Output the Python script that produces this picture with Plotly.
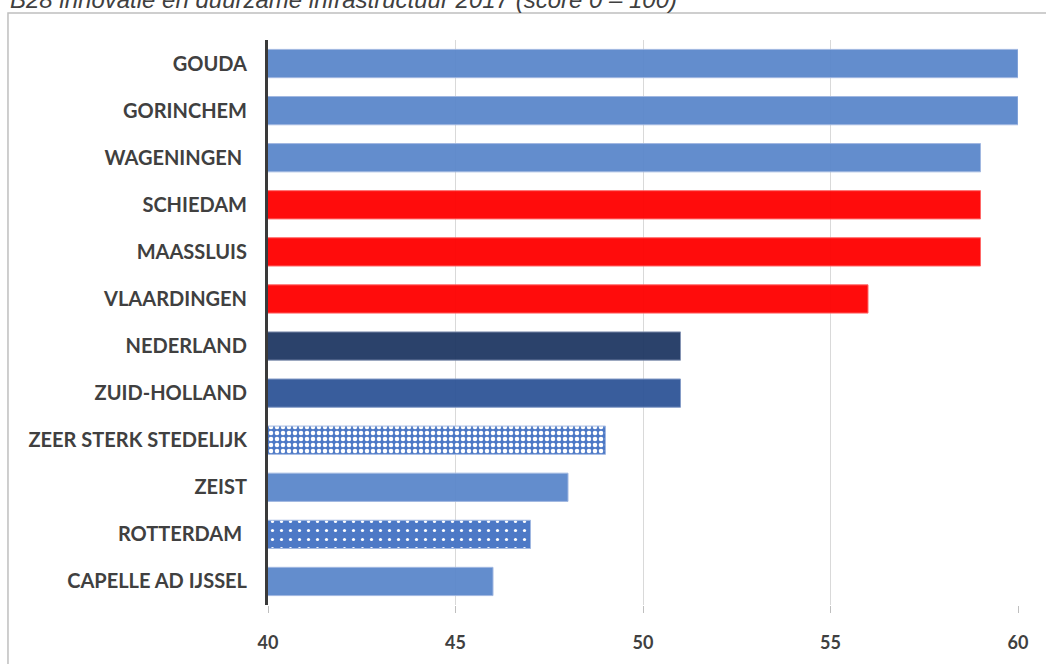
import plotly.graph_objects as go

# data
gemeenten = ['GOUDA', 'GORINCHEM', 'WAGENINGEN ', 'SCHIEDAM', 'MAASSLUIS', 'VLAARDINGEN',
             'NEDERLAND', 'ZUID-HOLLAND', 'ZEER STERK STEDELIJK', 'ZEIST', 'ROTTERDAM ',
             'CAPELLE AD IJSSEL']
scores = [60, 60, 59, 59, 59, 56, 51, 51, 49, 48, 47, 46]
titel = 'B28 innovatie en duurzame infrastructuur 2017 (score 0 – 100)'

LIGHT = '#5B87CB'
kleuren = [LIGHT, LIGHT, LIGHT, '#FF0000', '#FF0000', '#FF0000',
           '#203864', '#2F5597', '#4472C4', LIGHT, '#4472C4', LIGHT]
randen = ['#9DB5E0'] * 3 + ['#FF6060'] * 3 + ['#7F8FAF', '#7F97C5', '#9DB5E0', '#9DB5E0', '#9DB5E0', '#9DB5E0']
patronen = [''] * 8 + ['.', '', '.', '']
pat_size = [8] * 8 + [6, 8, 9, 8]
pat_sol = [0.3] * 8 + [0.45, 0.3, 0.1, 0.3]

fig = go.Figure()
fig.add_trace(go.Bar(
    x=scores, y=gemeenten, orientation='h', width=0.6, opacity=0.95,
    marker=dict(color=kleuren, line=dict(color=randen, width=1),
                pattern=dict(shape=patronen, fgcolor='white', fgopacity=1,
                             size=pat_size, solidity=pat_sol, fillmode='overlay')),
    hoverinfo='x+y'))

fig.update_xaxes(range=[40, 60], dtick=5, showgrid=True, gridcolor='#D9D9D9', gridwidth=1,
                 ticks='outside', ticklen=7, tickcolor='#BFBFBF', zeroline=False,
                 tickfont=dict(family='Lato', size=18, color='#404040', weight='bold'),
                 ticklabelstandoff=14)
fig.update_yaxes(autorange='reversed', showline=True, linecolor='#3A3A3A', linewidth=3,
                 ticks='', tickfont=dict(family='Lato', size=20, color='#404040', weight='bold'),
                 ticklabelstandoff=14)

# rand van het kader
fig.add_shape(type='rect', xref='paper', yref='paper', x0=-0.3467, x1=1.05, y0=-0.12, y1=1.0478,
              line=dict(color='#BFBFBF', width=1.5), layer='below')
fig.add_annotation(text=titel, xref='paper', yref='paper', x=-0.3467, y=1.071,
                   xanchor='left', yanchor='middle', showarrow=False,
                   font=dict(family='Liberation Sans', size=24, color='#404040', style='italic'))

fig.update_layout(width=1046, height=664, plot_bgcolor='white', paper_bgcolor='white',
                  margin=dict(l=268, r=28, t=40, b=59), showlegend=False, bargap=0.4)
fig.write_html('out.html', config={'displayModeBar': False},
               post_script='document.body.style.margin = "0";')
